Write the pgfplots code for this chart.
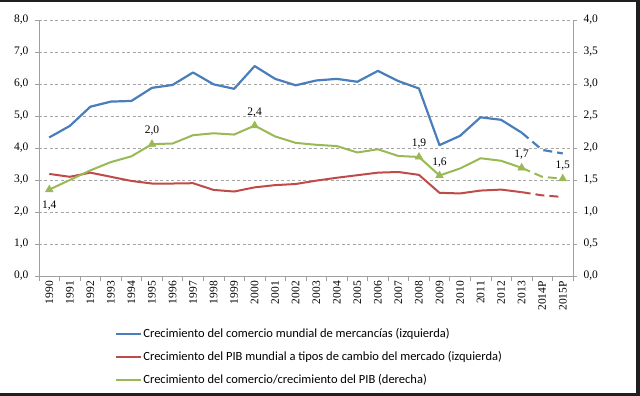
\documentclass[border=0pt]{standalone}
\usepackage{pgfplots}
\pgfplotsset{compat=1.18}
\usepackage{pgfplotstable}
\usepackage{fontspec}
\setmainfont{Liberation Serif}
\newfontfamily\legfont{Carlito}
\definecolor{cblue}{HTML}{4A7EBB}
\definecolor{cred}{HTML}{BE4B48}
\definecolor{cgreen}{HTML}{98B954}
\definecolor{cgrid}{HTML}{A6A6A6}
\definecolor{caxis}{HTML}{A0A0A0}

\pgfplotstableread{
x blue red green
0 4.33 3.19 1.35
1 4.69 3.10 1.50
2 5.29 3.23 1.65
3 5.45 3.10 1.78
4 5.47 2.97 1.87
5 5.88 2.89 2.06
6 5.97 2.89 2.07
7 6.36 2.90 2.20
8 5.99 2.69 2.23
9 5.85 2.64 2.21
10 6.56 2.77 2.35
11 6.16 2.84 2.18
12 5.96 2.875 2.08
13 6.11 2.98 2.05
14 6.16 3.07 2.03
15 6.07 3.15 1.93
16 6.41 3.23 1.98
17 6.09 3.25 1.875
18 5.86 3.16 1.86
19 4.09 2.60 1.57
20 4.38 2.58 1.68
21 4.96 2.67 1.84
22 4.88 2.70 1.80
23 4.48 2.62 1.69
24 3.94 2.52 1.55
25 3.83 2.47 1.52
}\data

\pgfplotstableread{
x y lab
5 2.06 2,0
10 2.35 2,4
18 1.86 1,9
19 1.57 1,6
23 1.69 1,7
25 1.52 1,5
}\marksabove

\pgfplotstableread{
x y lab
0 1.35 1,4
}\marksbelow

\pgfplotsset{
  common/.style={
    scale only axis, width=534pt, height=256pt,
    xmin=-0.5, xmax=25.5,
    tick align=outside,
    axis line style={caxis, line width=0.6pt},
    tick style={caxis, line width=0.6pt},
    major tick length=4pt, minor tick length=5pt,
    /pgf/number format/fixed, /pgf/number format/fixed zerofill,
    /pgf/number format/precision=1, /pgf/number format/use comma,
    /pgf/number format/assume math mode=true,
    yticklabel style={font=\fontsize{11.5}{13}\selectfont},
  },
}

\begin{document}
\begin{tikzpicture}
\useasboundingbox (-39pt,-120pt) rectangle (601pt,276pt);
\begin{axis}[common,
  ymin=0, ymax=8, ytick={0,1,...,8},
  axis x line*=bottom, axis y line*=left,
  ymajorgrids, grid style={dash pattern=on 3pt off 2.5pt, cgrid, line width=0.6pt},
  xtick={0,...,25},
  xticklabels={1990,1991,1992,1993,1994,1995,1996,1997,1998,1999,2000,2001,2002,2003,2004,2005,2006,2007,2008,2009,2010,2011,2012,2013,2014P,2015P},
  x tick label style={rotate=90, anchor=east, font=\fontsize{11.5}{13}\selectfont, inner sep=1pt},
  major x tick style={draw=none},
  minor xtick={-0.5,0.5,...,25.5},
  yticklabel style={xshift=-3pt},
]
\addplot[cblue, line width=2.2pt, line join=round, skip coords between index={24}{26}] table[x=x,y=blue]{\data};
\addplot[cblue, line width=2.2pt, dash pattern=on 9pt off 5pt, skip coords between index={0}{23}] table[x=x,y=blue]{\data};
\addplot[cred, line width=2pt, line join=round, skip coords between index={24}{26}] table[x=x,y=red]{\data};
\addplot[cred, line width=2pt, dash pattern=on 9pt off 5pt, skip coords between index={0}{23}] table[x=x,y=red]{\data};
\end{axis}
\begin{axis}[common,
  ymin=0, ymax=4, ytick={0,0.5,...,4},
  axis y line*=right, axis x line=none,
  yticklabel style={xshift=3pt},
  legend style={at={(0.1423,-0.2)}, anchor=north west, draw=none, fill=none,
    inner xsep=0pt, inner ysep=0pt, row sep=10.5pt,
    font=\legfont\fontsize{12.5}{14}\selectfont,
    nodes={inner xsep=1pt, inner ysep=1pt}},
  legend cell align=left,
  legend image code/.code={\draw[#1] (0pt,0pt) -- (25pt,0pt);},
]
\addlegendimage{cblue, line width=2.2pt}
\addlegendentry{Crecimiento del comercio mundial de mercancías (izquierda)}
\addlegendimage{cred, line width=2pt}
\addlegendentry{Crecimiento del PIB mundial a tipos de cambio del mercado (izquierda)}
\addplot[cgreen, line width=2pt, line join=round, skip coords between index={24}{26}] table[x=x,y=green]{\data};
\addlegendentry{Crecimiento del comercio/crecimiento del PIB (derecha)}
\addplot[cgreen, line width=2pt, dash pattern=on 9pt off 5pt, skip coords between index={0}{23}, forget plot] table[x=x,y=green]{\data};
\addplot[only marks, mark=triangle*, mark size=4.5pt, cgreen, forget plot,
  point meta=explicit symbolic, nodes near coords,
  nodes near coords style={font=\fontsize{11.5}{13}\selectfont, black, anchor=south, yshift=5pt}]
  table[x=x,y=y,meta=lab]{\marksabove};
\addplot[only marks, mark=triangle*, mark size=4.5pt, cgreen, forget plot,
  point meta=explicit symbolic, nodes near coords,
  nodes near coords style={font=\fontsize{11.5}{13}\selectfont, black, anchor=north, yshift=-8pt}]
  table[x=x,y=y,meta=lab]{\marksbelow};
\end{axis}
\fill[black!88] (-39pt,273.5pt) rectangle (601pt,276pt);
\fill[black!88] (597pt,-120pt) rectangle (601pt,276pt);
\fill[black!88] (-39pt,-120pt) rectangle (601pt,-117pt);
\end{tikzpicture}
\end{document}
